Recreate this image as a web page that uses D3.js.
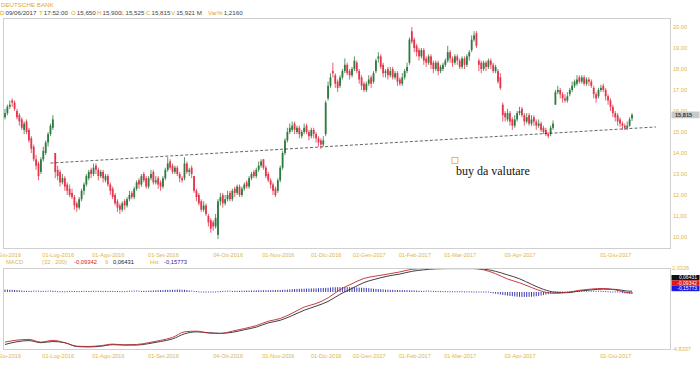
<!DOCTYPE html>
<html>
<head>
<meta charset="utf-8">
<script src="https://cdn.jsdelivr.net/npm/d3@7"></script>
<style>
  body { margin: 0; background: #fff; }
  svg { display: block; font-family: "Liberation Sans", Arial, sans-serif; }
</style>
</head>
<body>
<div id="chart"></div>
<script>
// daily candles, 01-Giu-2016 .. 09-Giu-2017 (trading days)
const opens = [
  15.7,15.9,16.2,16.5,16.4,16.0,15.8,15.6,15.1,15.5, 15.1,14.7,14.3,13.7,13.5,13.1,13.7,14.0,14.5,14.9,
  15.2,14.0,13.2,13.1,12.6,12.8,12.5,12.3,12.1,11.9, 11.6,11.4,11.8,12.2,12.5,12.8,13.2,13.0,13.4,13.2,
  12.9,13.1,12.7,12.9,12.5,12.3,12.0,11.7,11.5,11.3, 11.7,11.5,11.8,12.1,11.9,12.3,12.7,12.5,13.0,12.8,
  12.4,12.8,13.1,12.6,12.8,12.6,12.4,12.8,13.2,13.6, 13.4,13.1,13.3,13.0,12.8,12.8,13.5,13.1,13.3,12.9,
  12.2,12.0,11.7,11.3,11.5,11.0,10.8,10.7,10.5,10.1, 11.7,12.0,11.6,11.8,12.1,11.8,12.3,12.1,12.4,12.0,
  12.3,12.6,12.4,12.8,13.1,12.9,13.2,13.4,13.7,13.3, 13.0,12.7,12.5,12.3,12.2,12.7,13.3,14.0,14.6,15.0,
  15.1,15.4,15.0,15.2,14.8,15.0,15.3,15.0,14.8,15.1, 14.9,14.7,14.6,14.4,14.9,16.6,17.2,17.9,17.7,17.4,
  17.2,17.6,17.9,18.2,17.9,17.7,18.0,18.3,17.9,17.6, 17.3,17.0,17.3,17.6,17.4,17.9,18.5,18.6,18.2,17.8,
  18.0,17.7,18.0,17.6,17.8,17.5,17.3,17.6,17.9,18.3, 19.8,19.4,19.1,18.9,18.6,18.9,18.5,18.3,18.6,18.3,
  18.0,18.3,17.9,18.0,18.2,18.4,18.8,18.5,18.3,18.6, 18.4,18.1,18.5,18.2,18.6,18.9,19.4,19.7,18.4,18.3,
  18.0,18.3,18.1,18.4,18.2,17.9,17.9,17.6,16.3,15.9, 15.6,15.9,15.6,15.3,15.6,15.9,16.1,15.8,15.5,15.8,
  15.4,15.7,15.5,15.3,15.4,15.2,15.1,14.9,14.9,15.2, 16.3,16.9,17.0,16.8,16.6,16.5,16.8,17.0,17.2,17.3,
  17.6,17.4,17.6,17.3,17.5,17.4,17.1,16.8,16.7,17.0, 17.2,17.0,16.7,16.5,16.2,15.9,15.8,15.6,15.4,15.3,
  15.2,15.3,15.65
];
const highs = [
  16.1,16.3,16.5,16.6,16.5,16.1,15.9,15.7,15.5,15.6, 15.2,14.8,14.4,13.9,13.6,13.8,14.3,14.6,15.0,15.4,
  15.8,14.0,13.4,13.2,13.0,12.9,12.6,12.5,12.3,12.0, 11.7,11.9,12.3,12.6,13.0,13.2,13.3,13.5,13.5,13.3,
  13.2,13.2,13.0,13.0,12.6,12.4,12.1,11.8,11.6,11.7, 11.8,11.9,12.2,12.2,12.4,12.7,12.8,13.0,13.1,12.9,
  12.9,13.2,13.2,12.9,12.9,12.7,12.9,13.3,13.8,13.7, 13.5,13.4,13.4,13.1,12.9,13.8,13.6,13.3,13.4,12.9,
  12.3,12.1,11.8,11.7,11.6,11.1,10.9,10.8,11.1,11.8, 12.1,12.1,12.0,12.2,12.2,12.3,12.4,12.5,12.5,12.4,
  12.6,12.7,12.9,13.1,13.2,13.3,13.6,13.7,13.7,13.4, 13.1,12.8,12.6,12.4,12.8,13.4,14.1,14.7,15.2,15.4,
  15.5,15.5,15.3,15.3,15.1,15.4,15.4,15.1,15.2,15.2, 15.0,14.8,14.7,14.8,16.5,17.4,17.8,18.3,17.8,17.5,
  17.7,18.0,18.5,18.3,18.0,18.1,18.6,18.4,18.0,17.7, 17.4,17.4,17.7,17.7,17.9,18.5,18.8,18.7,18.3,18.0,
  18.1,18.1,18.1,17.9,17.9,17.6,17.8,18.0,18.3,19.5, 20.0,19.5,19.2,19.0,19.0,19.0,18.6,18.7,18.7,18.4,
  18.4,18.4,18.2,18.3,18.5,19.1,18.9,18.6,18.7,18.7, 18.5,18.6,18.6,18.7,18.9,19.6,19.8,19.8,18.5,18.4,
  18.4,18.4,18.5,18.5,18.3,18.2,18.0,17.8,16.4,16.0, 16.1,16.0,15.7,15.8,16.0,16.2,16.2,15.9,15.9,15.9,
  15.8,15.8,15.6,15.6,15.5,15.3,15.2,15.0,15.3,15.55, 17.0,17.2,17.1,16.9,16.8,16.9,17.1,17.4,17.5,17.7,
  17.7,17.7,17.7,17.6,17.6,17.5,17.2,16.9,17.1,17.25, 17.3,17.1,16.8,16.6,16.3,16.0,15.9,15.7,15.5,15.4,
  15.5,15.7,15.9
];
const lows = [
  15.6,15.8,16.1,16.2,16.0,15.6,15.3,15.1,14.9,14.9, 14.5,14.0,13.6,13.2,12.7,13.0,13.6,13.9,14.3,14.8,
  15.1,12.8,12.7,12.4,12.5,12.2,12.0,11.9,11.8,11.3, 11.2,11.3,11.7,12.0,12.4,12.7,12.8,12.9,13.0,12.7,
  12.8,12.6,12.6,12.4,12.0,11.8,11.5,11.2,11.1,11.2, 11.3,11.4,11.7,11.8,11.8,12.2,12.3,12.4,12.6,12.3,
  12.3,12.7,12.5,12.5,12.3,12.2,12.3,12.7,13.1,13.2, 13.0,13.0,12.9,12.6,12.6,12.7,13.0,12.9,12.8,12.1,
  11.7,11.5,11.2,11.2,11.0,10.5,10.2,10.3,10.4,9.9, 11.5,11.4,11.5,11.7,11.7,11.7,11.9,12.0,11.9,11.9,
  12.2,12.3,12.3,12.7,12.8,12.8,13.1,13.3,13.2,12.8, 12.6,12.3,12.0,11.9,12.1,12.6,13.2,13.9,14.5,14.9,
  15.0,14.9,14.9,14.7,14.7,14.9,14.9,14.6,14.7,14.7, 14.5,14.3,14.2,14.3,14.8,16.5,17.1,17.6,17.1,16.9,
  17.1,17.5,17.8,17.7,17.5,17.6,17.9,17.8,17.3,17.0, 16.9,16.9,17.2,17.1,17.3,17.8,18.3,18.0,17.6,17.6,
  17.5,17.6,17.5,17.5,17.2,17.2,17.2,17.5,17.8,18.2, 19.2,18.8,18.6,18.4,18.5,18.2,18.1,18.2,18.0,17.8,
  17.9,17.7,17.8,17.9,18.1,18.3,18.3,18.1,18.2,18.2, 18.0,18.0,18.0,18.1,18.4,18.8,19.3,19.0,17.9,17.8,
  17.9,17.9,18.0,18.0,17.8,17.8,17.3,17.0,15.5,15.5, 15.5,15.3,15.1,15.2,15.5,15.8,15.7,15.3,15.4,15.3,
  15.3,15.3,15.1,15.2,15.0,14.9,14.8,14.7,14.8,15.1, 16.3,16.8,16.6,16.4,16.4,16.4,16.7,16.9,17.1,17.2,
  17.3,17.3,17.2,17.2,17.2,17.1,16.6,16.4,16.6,16.9, 16.9,16.5,16.3,16.0,15.7,15.5,15.3,15.25,15.1,15.1,
  15.1,15.25,15.525
];
const closes = [
  15.9,16.2,16.3,16.4,16.1,15.7,15.5,15.2,15.4,15.0, 14.6,14.2,13.7,13.4,12.9,13.7,14.1,14.5,14.9,15.3,
  15.6,13.1,12.9,12.6,12.8,12.4,12.2,12.0,11.9,11.5, 11.4,11.8,12.2,12.5,12.9,13.1,13.0,13.3,13.2,12.9,
  13.1,12.8,12.9,12.5,12.2,11.9,11.6,11.4,11.3,11.6, 11.5,11.8,12.0,11.9,12.3,12.6,12.5,12.9,12.7,12.4,
  12.8,13.0,12.6,12.7,12.5,12.4,12.8,13.2,13.5,13.3, 13.1,13.3,13.0,12.8,12.7,13.5,13.1,13.2,13.0,12.2,
  11.9,11.6,11.3,11.5,11.1,10.7,10.4,10.5,10.9,11.7, 11.9,11.6,11.8,12.0,11.8,12.2,12.1,12.4,12.0,12.3,
  12.5,12.4,12.8,13.0,12.9,13.2,13.4,13.6,13.3,12.9, 12.7,12.5,12.2,12.0,12.7,13.3,14.0,14.6,15.0,15.2,
  15.3,15.1,15.2,14.9,15.0,15.2,15.0,14.8,15.1,14.9, 14.7,14.5,14.4,14.6,16.4,17.2,17.6,17.8,17.3,17.1,
  17.6,17.9,18.2,17.8,17.7,18.0,18.4,17.9,17.5,17.2, 17.0,17.3,17.5,17.3,17.8,18.4,18.6,18.1,17.8,17.9,
  17.7,17.9,17.6,17.8,17.4,17.3,17.6,17.9,18.1,19.4, 19.3,19.0,18.8,18.6,18.9,18.4,18.3,18.6,18.2,18.0,
  18.3,17.9,18.1,18.2,18.4,18.8,18.5,18.3,18.6,18.4, 18.1,18.5,18.2,18.6,18.8,19.4,19.6,19.1,18.2,18.0,
  18.3,18.1,18.4,18.2,17.9,18.1,17.4,17.1,15.8,15.7, 15.9,15.5,15.3,15.6,15.9,16.0,15.8,15.5,15.7,15.4,
  15.6,15.5,15.3,15.4,15.1,15.0,14.9,14.8,15.2,15.4, 16.9,17.0,16.8,16.6,16.5,16.7,17.0,17.2,17.4,17.5,
  17.4,17.6,17.3,17.5,17.4,17.2,16.8,16.6,17.0,17.1, 17.0,16.7,16.5,16.2,15.9,15.7,15.5,15.4,15.3,15.2,
  15.3,15.6,15.815
];

// x tick labels and the candle (day number) they sit under
const tickLabels = ['01-Giu-2016','01-Lug-2016','01-Ago-2016','01-Set-2016','04-Ott-2016','01-Nov-2016',
  '01-Dic-2016','02-Gen-2017','01-Feb-2017','01-Mar-2017','03-Apr-2017','01-Giu-2017'];
const tickDays = [0, 22, 43, 66, 93, 114, 134, 152, 171, 190, 215, 255];
const priceTicks = [10, 11, 12, 13, 14, 15, 16, 17, 18, 19, 20];

// MACD (32,200) and signal (9), read once a week; histogram daily
const macdDays = [0,5,10,15,20,25,30,35,40,45,50,55,60,65,70,75,80,85,90,95,100,105,110,115,120,125,
  130,135,140,145,150,155,160,165,170,175,180,185,190,195,200,205,210,215,220,225,230,235,240,245,250,255,260,262];
const macdLine = [-4.25,-4.08,-4.02,-4.25,-4.10,-4.30,-4.60,-4.62,-4.55,-4.42,-4.48,-4.45,-4.30,-4.10,-3.85,
  -3.38,-3.32,-3.48,-3.52,-3.32,-3.10,-2.85,-2.48,-2.25,-1.80,-1.28,-0.98,-0.50,0.20,0.70,1.15,1.35,1.52,1.70,
  1.92,1.98,2.00,2.00,2.00,2.00,1.88,1.55,1.10,0.78,0.38,0.02,-0.12,-0.03,0.14,0.25,0.30,0.18,-0.05,-0.09342];
const signalLine = [-4.45,-4.22,-4.12,-4.30,-4.20,-4.30,-4.62,-4.66,-4.60,-4.47,-4.50,-4.50,-4.38,-4.20,-3.98,
  -3.55,-3.38,-3.45,-3.50,-3.42,-3.20,-2.98,-2.62,-2.40,-2.00,-1.55,-1.20,-0.80,-0.20,0.30,0.80,1.10,1.35,1.52,
  1.75,1.88,1.96,1.98,1.98,1.98,1.94,1.75,1.45,1.12,0.65,0.22,-0.02,-0.06,0.08,0.18,0.24,0.22,0.08,0.06431];
const histValues = [
  0.20,0.20,0.19,0.18,0.17,0.16,0.14,0.12,0.11,0.10,0.10,
  0.09,0.08,0.07,0.06,0.05,0.05,0.06,0.07,0.08,0.10,0.06,0.03,0.02,0.02,0.01,
  0.03,0.05,0.05,0.04,0.03,0.03,0.04,0.05,0.05,
  0.04,0.05,0.06,0.06,0.05,0.05,0.05,0.05,0.04,0.04,0.05,0.04,0.03,0.03,0.03,0.03,
  0.05,0.06,0.07,0.08,0.08,0.08,0.09,0.10,0.10,0.11,0.12,0.13,0.14,0.15,0.16,0.16,0.17,0.18,0.18,0.18,0.19,0.20,0.20,0.19,0.18,0.17,
  0.12,0.08,0.05,0.03,0.01,-0.01,-0.02,-0.03,-0.03,-0.03,-0.02,
  0.00,0.02,0.03,0.05,0.06,0.07,0.08,0.09,0.10,0.10,0.10,0.11,0.11,0.12,0.12,0.13,0.13,0.14,0.14,0.14,0.15,0.15,
  0.15,0.15,0.16,0.16,0.16,0.17,0.18,0.19,0.20,0.22,0.24,0.25,0.26,0.27,
  0.28,0.28,0.29,0.29,0.30,0.30,0.31,0.32,0.33,0.34,0.35,0.36,0.38,0.40,0.40,0.41,0.41,0.42,0.42,0.41,0.41,0.40,0.39,
  0.38,0.37,0.36,0.35,0.34,0.32,0.30,0.28,0.26,0.25,0.24,0.22,0.20,0.19,0.18,0.18,0.17,0.17,0.16,0.16,0.15,0.15,0.14,0.14,0.13,0.12,
  0.11,0.10,0.09,0.08,0.07,0.06,0.05,0.04,0.04,0.03,0.03,0.03,0.02,0.02,0.02,0.02,0.02,0.02,0.02,0.01,0.01,0.01,0.01,0.00,
  -0.01,-0.02,-0.03,-0.04,-0.05,-0.07,-0.09,-0.12,-0.15,-0.18,-0.21,-0.25,
  -0.28,-0.31,-0.34,-0.36,-0.38,-0.40,-0.41,-0.42,-0.42,-0.42,-0.41,-0.40,-0.38,-0.36,-0.33,-0.30,-0.26,-0.22,-0.18,-0.14,
  -0.10,-0.07,-0.05,-0.03,-0.01,0.00,0.01,0.02,0.03,0.04,0.05,0.06,0.06,
  0.07,0.07,0.07,0.07,0.07,0.06,0.06,0.06,0.05,0.04,0.02,0.00,
  -0.02,-0.04,-0.06,-0.08,-0.10,-0.12,-0.14,-0.15,-0.15773
];
const macdRange = [-4.8337, 2.0326];

// support line drawn by hand on the chart: [day, price]
const trendLine = [[19, 13.52], [272, 15.24]];
const notePoint = [188, 13.65];
const noteText = 'buy da valutare';

const GOLD = '#dcb64c';
const UP = '#2f7a3f', DOWN = '#e5354c';

const it = d3.formatLocale({decimal: ',', thousands: '.', grouping: [3], currency: ['', '€'], minus: '-'});
const fmt2 = it.format('.2f'), fmt4 = it.format('.4f'), fmt3 = it.format('.3f'), fmt5 = it.format('.5f');

const W = 700, H = 365;
const svg = d3.select('#chart').append('svg').attr('width', W).attr('height', H);
svg.append('rect').attr('width', W).attr('height', H).attr('fill', '#fff');

// header
const head = svg.append('g').attr('font-size', 6.2);
head.append('text').attr('x', 1).attr('y', 7).attr('fill', '#e2a92a').text('DEUTSCHE BANK');
const info = [['D', '09/06/2017'], ['T', '17:52:00'], ['O', '15,650'], ['H', '15,900'], ['L', '15,525'],
  ['C', '15,815'], ['V', '15,921 M'], ['Var%', '1,2160']];
const infoX = [0, 39, 71, 97, 121, 146, 171, 208];
info.forEach((d, i) => {
  const t = head.append('text').attr('x', infoX[i]).attr('y', 14.5);
  t.append('tspan').attr('fill', '#e2a92a').text(d[0]);
  t.append('tspan').attr('fill', '#444').attr('dx', 1).text(d[1]);
});

const mainBox = {left: 3, right: 670, top: 18, bottom: 248};
const macdBox = {left: 3, right: 670, top: 268, bottom: 349};

const x = d3.scaleLinear().domain([0, closes.length - 1]).range([5, 632]);
const y = d3.scaleLinear().domain([10, 20]).range([237, 27]);
const ym = d3.scaleLinear().domain(macdRange).range([macdBox.bottom, macdBox.top]);

[mainBox, macdBox].forEach(b => {
  svg.append('rect').attr('x', b.left + 0.5).attr('y', b.top + 0.5)
    .attr('width', b.right - b.left).attr('height', b.bottom - b.top)
    .attr('fill', 'none').attr('stroke', '#cfcfcf');
});

svg.append('clipPath').attr('id', 'clipMain').append('rect')
  .attr('x', mainBox.left + 1).attr('y', mainBox.top + 1)
  .attr('width', mainBox.right - mainBox.left - 1).attr('height', mainBox.bottom - mainBox.top - 1);

// right price axis
const yAxis = svg.append('g').attr('transform', `translate(${mainBox.right},0)`)
  .call(d3.axisRight(y).tickValues(priceTicks).tickSize(0).tickPadding(3).tickFormat(fmt2));
yAxis.select('.domain').remove();
yAxis.selectAll('text').attr('fill', GOLD).attr('font-size', 5.6).attr('font-family', null);

// x axes
function dateAxis(yPos) {
  const g = svg.append('g').attr('transform', `translate(0,${yPos})`)
    .call(d3.axisBottom(x).tickValues(tickDays).tickSize(0).tickPadding(5)
      .tickFormat((d, i) => tickLabels[i]));
  g.select('.domain').remove();
  g.selectAll('text').attr('fill', GOLD).attr('font-size', 5.6).attr('font-family', null);
}
dateAxis(mainBox.bottom);
dateAxis(macdBox.bottom);

// candles
const plot = svg.append('g').attr('clip-path', 'url(#clipMain)');
const days = d3.range(closes.length);
const candle = plot.selectAll('.c').data(days).enter().append('g')
  .attr('stroke', i => closes[i] >= opens[i] ? UP : DOWN)
  .attr('fill', i => closes[i] >= opens[i] ? UP : DOWN);
candle.append('line')
  .attr('x1', i => x(i)).attr('x2', i => x(i))
  .attr('y1', i => y(highs[i])).attr('y2', i => y(lows[i]))
  .attr('stroke-width', 0.8);
candle.append('rect')
  .attr('x', i => x(i) - 0.9).attr('width', 1.8)
  .attr('y', i => y(Math.max(opens[i], closes[i])))
  .attr('height', i => Math.max(0.8, Math.abs(y(opens[i]) - y(closes[i]))))
  .attr('stroke', 'none');

// hand drawn support line
plot.append('line')
  .attr('x1', x(trendLine[0][0])).attr('y1', y(trendLine[0][1]))
  .attr('x2', x(trendLine[1][0])).attr('y2', y(trendLine[1][1]))
  .attr('stroke', '#222').attr('stroke-width', 0.7).attr('stroke-dasharray', '3,2');

// note
plot.append('rect')
  .attr('x', x(notePoint[0]) - 3).attr('y', y(notePoint[1]) - 3)
  .attr('width', 6).attr('height', 6)
  .attr('fill', 'none').attr('stroke', '#e8a23a').attr('stroke-width', 0.8);
plot.append('text')
  .attr('x', x(notePoint[0]) + 1).attr('y', y(notePoint[1]) + 15)
  .attr('font-family', '"Liberation Serif", "Times New Roman", serif')
  .attr('font-size', 12).attr('fill', '#111').text(noteText);

// last price tag
const lastY = y(closes[closes.length - 1]);
svg.append('rect').attr('x', mainBox.right + 1.5).attr('y', lastY - 3.4)
  .attr('width', 28).attr('height', 6.8).attr('fill', '#c9c9c9');
svg.append('text').attr('x', mainBox.right + 5).attr('y', lastY + 2)
  .attr('font-size', 5.6).attr('font-weight', 'bold').attr('fill', '#333')
  .text(fmt3(closes[closes.length - 1]));

// MACD panel
svg.append('clipPath').attr('id', 'clipMacd').append('rect')
  .attr('x', macdBox.left + 1).attr('y', macdBox.top + 1)
  .attr('width', macdBox.right - macdBox.left - 1).attr('height', macdBox.bottom - macdBox.top - 1);
const mp = svg.append('g').attr('clip-path', 'url(#clipMacd)');

mp.selectAll('.h').data(histValues).enter().append('rect')
  .attr('x', (d, i) => x(i) - 0.5).attr('width', 1)
  .attr('y', d => Math.min(ym(d), ym(0)) - (Math.abs(ym(d) - ym(0)) < 1 ? 0.5 : 0))
  .attr('height', d => Math.max(1, Math.abs(ym(d) - ym(0))))
  .attr('fill', '#3b3bb0');

const mline = arr => d3.line().x((d, i) => x(macdDays[i])).y(d => ym(d)).curve(d3.curveMonotoneX)(arr);
mp.append('path').attr('d', mline(signalLine)).attr('fill', 'none').attr('stroke', '#2a2a2a').attr('stroke-width', 0.9);
mp.append('path').attr('d', mline(macdLine)).attr('fill', 'none').attr('stroke', '#c0282e').attr('stroke-width', 0.9);

const mAxis = svg.append('g').attr('transform', `translate(${macdBox.right},0)`)
  .call(d3.axisRight(ym).tickValues(macdRange).tickSize(0).tickPadding(2).tickFormat(fmt4));
mAxis.select('.domain').remove();
mAxis.selectAll('text').attr('fill', GOLD).attr('font-size', 5.6).attr('font-family', null);

// MACD legend
const lastMacd = macdLine[macdLine.length - 1], lastSig = signalLine[signalLine.length - 1],
  lastHist = histValues[histValues.length - 1];
const legend = [
  ['MACD', GOLD, 6], ['(32 , 200)', GOLD, 42], [fmt5(lastMacd), '#d0202a', 74],
  ['9', GOLD, 105], [fmt5(lastSig), '#222', 113], ['Hst', GOLD, 150], [fmt5(lastHist), '#2a2aa0', 164]
];
svg.append('g').attr('font-size', 5.8).selectAll('text').data(legend).enter().append('text')
  .attr('x', d => d[2]).attr('y', 264).attr('fill', d => d[1]).text(d => d[0]);

// value tags on the MACD axis
const tags = [[lastSig, '#111'], [lastMacd, '#e01818'], [lastHist, '#1a1ae0']];
tags.forEach((d, i) => {
  svg.append('rect').attr('x', macdBox.right + 1.5).attr('y', 275 + i * 5.4)
    .attr('width', 28).attr('height', 5.4).attr('fill', d[1]);
  svg.append('text').attr('x', macdBox.right + 27).attr('y', 279.3 + i * 5.4)
    .attr('text-anchor', 'end').attr('font-size', 5).attr('fill', '#fff').text(fmt5(d[0]));
});
</script>
</body>
</html>
